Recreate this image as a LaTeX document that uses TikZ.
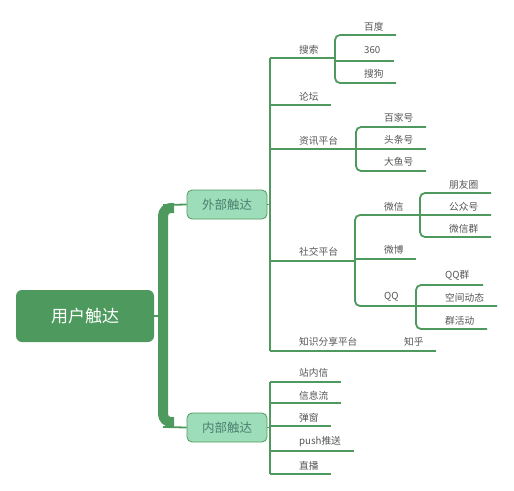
\documentclass[tikz,border=0pt]{standalone}
\usepackage{fontspec}
\setmainfont{Noto Sans CJK SC}
\definecolor{dg}{HTML}{4E9A5E}
\definecolor{lg}{HTML}{9EDDBA}
\definecolor{ntxt}{HTML}{4A7F6E}
\definecolor{txt}{HTML}{555555}
\tikzset{
  br/.style={draw=dg, line width=1.8pt},
  rbr/.style={draw=dg, line width=1.8pt, rounded corners=5pt},
  lbl/.style={anchor=west, inner sep=0pt, text=txt, font=\fontsize{9.7}{10}\selectfont},
  rootbox/.style={draw=none, fill=dg, rounded corners=6pt, minimum width=138pt, minimum height=52pt, text=white, font=\fontsize{17}{18}\selectfont, inner sep=0pt},
  midbox/.style={draw=dg, line width=0.8pt, fill=lg, rounded corners=5pt, minimum width=80pt, minimum height=29pt, text=ntxt, font=\fontsize{12.5}{13}\selectfont, inner sep=0pt}
}
\begin{document}
\begin{tikzpicture}[x=1pt,y=-1pt]
\useasboundingbox (0,0) rectangle (514,490);
% main nodes
\node[rootbox] (root) at (85,316) {用户触达};
\node[midbox] (ext) at (227,204.5) {外部触达};
\node[midbox] (int) at (227,427.5) {内部触达};
% main bracket
\coordinate (rj) at (163,316);
\coordinate (bt) at (163,205);
\coordinate (bb) at (163,427);
\draw[dg, line width=10pt, rounded corners=8pt] (174,208) -- (163,208) -- (163,422) -- (174,422);
\draw[br] (root.east) -- (rj);
\draw[br] (bt) -- (ext.west);
\draw[br] (bb) -- (int.west);
% external junctions
\coordinate (ej) at (270,204.5);
\coordinate (e1) at (270,58);
\coordinate (e2) at (270,105);
\coordinate (e3) at (270,149);
\coordinate (e4) at (270,261);
\coordinate (e5) at (270,351);
\draw[br] (ext.east) -- (ej);
\draw[br] (e1) -- (e5);
% search
\coordinate (s0) at (335,58);
\coordinate (s1) at (396,35);
\coordinate (s1a) at (335,35);
\coordinate (s2a) at (335,61);
\coordinate (s2) at (394,61);
\coordinate (s3a) at (335,83);
\coordinate (s3) at (396,83);
\draw[br] (e1) -- (s0);
\draw[rbr] (s1) -- (s1a) -- (s3a) -- (s3);
\draw[br] (s2a) -- (s2);
% forum
\coordinate (f0) at (331,105);
\draw[br] (e2) -- (f0);
% news
\coordinate (n0) at (356,149);
\coordinate (n1a) at (356,127);
\coordinate (n1) at (426,127);
\coordinate (n2) at (426,149);
\coordinate (n3a) at (356,171);
\coordinate (n3) at (426,171);
\draw[br] (e3) -- (n0);
\draw[rbr] (n1) -- (n1a) -- (n3a) -- (n3);
\draw[br] (n0) -- (n2);
% social
\coordinate (c0) at (355,261);
\coordinate (c1a) at (355,215);
\coordinate (c1) at (491,215);
\coordinate (c3a) at (355,306);
\coordinate (c3) at (497,306);
\coordinate (c2a) at (355,259);
\coordinate (c2) at (416,259);
\draw[br] (e4) -- (c0);
\draw[rbr] (c1) -- (c1a) -- (c3a) -- (c3);
\draw[br] (c2a) -- (c2);
% wechat
\coordinate (w1) at (491,193);
\coordinate (w1a) at (420,193);
\coordinate (w3a) at (420,237);
\coordinate (w3) at (491,237);
\draw[rbr] (w1) -- (w1a) -- (w3a) -- (w3);
% qq
\coordinate (q1) at (483,285);
\coordinate (q1a) at (416,285);
\coordinate (q3a) at (416,329);
\coordinate (q3) at (487,329);
\draw[rbr] (q1) -- (q1a) -- (q3a) -- (q3);
% knowledge
\coordinate (k0) at (436,351);
\draw[br] (e5) -- (k0);
% internal
\coordinate (ij) at (270,427.5);
\coordinate (i1) at (270,382);
\coordinate (i2) at (270,403);
\coordinate (i3) at (270,426);
\coordinate (i4) at (270,451);
\coordinate (i5) at (270,474);
\coordinate (i1e) at (341,382);
\coordinate (i2e) at (341,403);
\coordinate (i3e) at (331,426);
\coordinate (i4e) at (354,451);
\coordinate (i5e) at (331,474);
\draw[br] (int.east) -- (ij);
\draw[br] (i1) -- (i5);
\draw[br] (i1) -- (i1e);
\draw[br] (i2) -- (i2e);
\draw[br] (i3) -- (i3e);
\draw[br] (i4) -- (i4e);
\draw[br] (i5) -- (i5e);
% labels
\node[lbl] (t1) at (299,50) {搜索};
\node[lbl] (t2) at (299,97) {论坛};
\node[lbl] (t3) at (299,141) {资讯平台};
\node[lbl] (t4) at (299,252) {社交平台};
\node[lbl] (t5) at (299,342) {知识分享平台};
\node[lbl] (t51) at (404,342) {知乎};
\node[lbl] (t11) at (364,27) {百度};
\node[lbl] (t12) at (364,50) {360};
\node[lbl] (t13) at (364,74) {搜狗};
\node[lbl] (t31) at (384,118) {百家号};
\node[lbl] (t32) at (384,140) {头条号};
\node[lbl] (t33) at (384,162) {大鱼号};
\node[lbl] (t41) at (384,207) {微信};
\node[lbl] (t42) at (384,250) {微博};
\node[lbl] (t43) at (384,297) {QQ};
\node[lbl] (t411) at (449,185) {朋友圈};
\node[lbl] (t412) at (449,207) {公众号};
\node[lbl] (t413) at (449,229) {微信群};
\node[lbl] (t431) at (445,275) {QQ群};
\node[lbl] (t432) at (445,298) {空间动态};
\node[lbl] (t433) at (445,321) {群活动};
\node[lbl] (u1) at (299,373) {站内信};
\node[lbl] (u2) at (299,396) {信息流};
\node[lbl] (u3) at (299,418) {弹窗};
\node[lbl] (u4) at (299,442) {push推送};
\node[lbl] (u5) at (299,466) {直播};
\end{tikzpicture}
\end{document}
